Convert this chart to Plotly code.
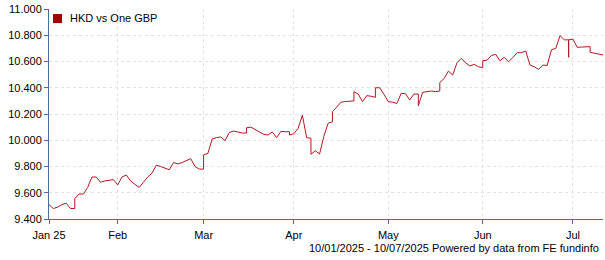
import pandas as pd
import plotly.graph_objects as go

# Business days covered by the chart
start_date = "2025-01-10"
end_date = "2025-07-10"
business_days = pd.bdate_range(start_date, end_date)

# HKD per one GBP, one entry per business day (tuples = several quotes on the same day)
hkd_per_gbp = [
    9.51, 9.48, 9.49, 9.51, 9.52, 9.48, (9.48, 9.555), 9.59, 9.59, 9.64,
    9.72, 9.72, 9.68, 9.69, 9.695, 9.70, 9.66, 9.72, 9.735, 9.69,
    9.665, 9.64, 9.68, 9.72, 9.75, 9.81, 9.80, 9.79, 9.775, 9.83,
    9.82, 9.83, 9.845, 9.86, 9.80, 9.78, (9.78, 9.888), 9.90, 10.01, 10.02,
    10.025, 9.997, 10.06, 10.07, 10.06, 10.055, (10.055, 10.095), 10.10, 10.08, 10.065,
    10.045, 10.04, 10.063, 10.02, 10.068, 10.065, (10.065, 10.04), 10.05, 10.09, 10.19,
    10.02, (10.015, 9.893), 9.92, 9.895, 10.03, 10.13, (10.14, 10.217), 10.25, 10.29, 10.295,
    10.30, (10.30, 10.37), 10.352, 10.294, 10.34, 10.335, (10.327, 10.40), 10.40, 10.35, 10.294,
    10.29, 10.28, 10.357, 10.355, 10.307, 10.352, (10.352, 10.263), 10.365, 10.37, 10.375,
    10.37, (10.375, 10.44), 10.47, 10.527, 10.497, 10.59, 10.624, 10.59, 10.566, 10.578,
    10.56, (10.553, 10.606), 10.61, 10.645, 10.655, 10.606, 10.632, 10.598, 10.63, 10.667,
    10.667, 10.68, 10.573, 10.56, 10.54, 10.573, 10.57, 10.69, 10.70, 10.797,
    10.765, (10.765, 10.632, 10.765), 10.771, 10.708, 10.71, 10.712, (10.713, 10.67), 10.665, 10.658, 10.65,
]

# Axis ticks
month_tick_dates = ["2025-01-10", "2025-02-03", "2025-03-03", "2025-04-01",
                    "2025-05-01", "2025-06-02", "2025-07-01"]
month_tick_labels = ["Jan 25", "Feb", "Mar", "Apr", "May", "Jun", "Jul"]
y_ticks = [9.4, 9.6, 9.8, 10.0, 10.2, 10.4, 10.6, 10.8, 11.0]

series_name = "HKD vs One GBP"
footer_text = "10/01/2025 - 10/07/2025 Powered by data from FE fundinfo"

# Flatten into x / y
xs, ys = [], []
for d, v in zip(business_days, hkd_per_gbp):
    vals = v if isinstance(v, tuple) else (v,)
    for val in vals:
        xs.append(d.strftime("%Y-%m-%d"))
        ys.append(val)

AXIS_COLOR = "#4b6d9b"
GRID_COLOR = "#e3e3e3"
LINE_COLOR = "#b3161f"
SWATCH_COLOR = "#9e0000"
FONT = "Liberation Sans, Arial, sans-serif"

fig = go.Figure()
fig.add_trace(go.Scatter(
    x=xs, y=ys, mode="lines", name=series_name,
    line=dict(color=LINE_COLOR, width=1),
    showlegend=False, hoverinfo="skip",
))

fig.update_layout(
    width=605, height=260,
    margin=dict(l=49, r=2, t=9, b=41),
    paper_bgcolor="white", plot_bgcolor="white",
    font=dict(family=FONT, size=11, color="#000000"),
    showlegend=False,
    shapes=[dict(  # legend swatch
        type="rect", xref="paper", yref="paper",
        x0=0.0072, x1=0.0235, y0=0.933, y1=0.976,
        fillcolor=SWATCH_COLOR, line=dict(width=0),
    )],
    annotations=[
        dict(  # legend label
            text=series_name, xref="paper", yref="paper",
            x=0.0343, y=0.955, xanchor="left", yanchor="middle",
            showarrow=False, font=dict(size=11, color="#000"),
        ),
        dict(
            text=footer_text, xref="paper", yref="paper",
            x=1, y=-0.138, xanchor="right", yanchor="middle",
            xshift=-2, showarrow=False, font=dict(size=11, color="#000"),
        ),
    ],
)

fig.update_xaxes(
    type="date",
    range=[start_date, end_date],
    rangebreaks=[dict(bounds=["sat", "mon"])],
    tickmode="array", tickvals=month_tick_dates, ticktext=month_tick_labels,
    ticks="outside", ticklen=4, tickcolor=AXIS_COLOR,
    ticklabelstandoff=2,
    showline=True, linecolor=AXIS_COLOR, linewidth=1,
    showgrid=True, gridcolor=GRID_COLOR, griddash="dot", gridwidth=1,
    zeroline=False, tickfont=dict(size=11, color="#000"),
)
fig.update_yaxes(
    range=[9.4, 11.0],
    tickmode="array", tickvals=y_ticks, tickformat=".3f",
    ticks="outside", ticklen=4, tickcolor=AXIS_COLOR,
    showline=True, linecolor=AXIS_COLOR, linewidth=1,
    showgrid=True, gridcolor=GRID_COLOR, griddash="dot", gridwidth=1,
    zeroline=False, tickfont=dict(size=11, color="#000"),
)

fig.write_html("out.html")
